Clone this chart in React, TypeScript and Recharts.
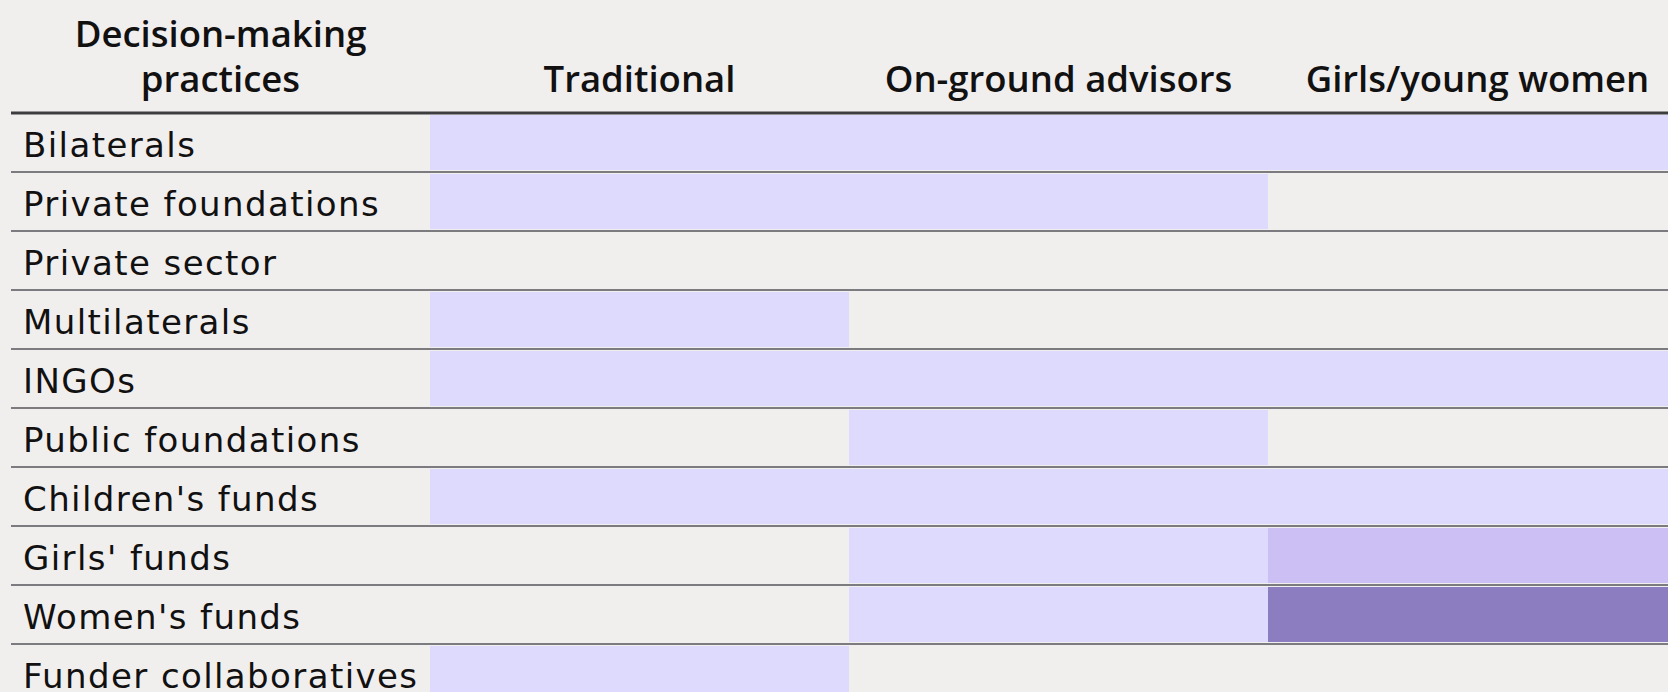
import { BarChart, Bar, XAxis, YAxis, CartesianGrid, Cell, LabelList } from 'recharts';

const ROWS = [
  'Bilaterals',
  'Private foundations',
  'Private sector',
  'Multilaterals',
  'INGOs',
  'Public foundations',
  "Children's funds",
  "Girls' funds",
  "Women's funds",
  'Funder collaboratives',
];

const COLUMNS = ['Decision-making\npractices', 'Traditional', 'On-ground advisors', 'Girls/young women'];
const COLUMN_TICKS = [0.5, 1.5, 2.5, 3.5];

// 0 = no fill, 1 = light, 2 = medium, 3 = dark
const TRADITIONAL = [1, 1, 0, 1, 1, 0, 1, 0, 0, 1];
const ON_GROUND = [1, 1, 0, 0, 1, 1, 1, 1, 1, 0];
const GIRLS = [1, 0, 0, 0, 1, 0, 1, 2, 3, 0];

const LEVEL_COLORS = ['transparent', '#dddafe', '#cbbff3', '#8c7cc0'];
const BG = '#f1eeee';
const HEAD_FONT = '"Open Sans", sans-serif';
const ROW_FONT = '"DejaVu Sans", sans-serif';

const data = ROWS.map((name, i) => ({
  name,
  label: 1,
  trad: 1,
  ground: 1,
  girls: 1,
  lTrad: TRADITIONAL[i],
  lGround: ON_GROUND[i],
  lGirls: GIRLS[i],
}));

function HeaderTick(props: any) {
  const { x, y, payload } = props;
  const idx = COLUMN_TICKS.indexOf(payload.value);
  if (idx < 0) return null;
  const lines = COLUMNS[idx].split('\n');
  return (
    <g>
      {lines.map((l, i) => (
        <text
          key={i}
          x={x}
          y={y - 21 - (lines.length - 1 - i) * 45}
          textAnchor="middle"
          fontFamily={HEAD_FONT}
          fontWeight={600}
          fontSize={36.5}
          fill="#111"
        >
          {l}
        </text>
      ))}
    </g>
  );
}

function RowLabel(props: any) {
  const { x, y, height, value } = props;
  return (
    <text x={x + 12} y={y + height / 2 + 14} fontFamily={ROW_FONT} fontSize={34} letterSpacing={1.4} fill="#111">
      {value}
    </text>
  );
}

// row boundaries: band edges of the category axis
function rowLines({ offset }: any): number[] {
  const h = offset.height / ROWS.length;
  return ROWS.map((_, i) => offset.top + (i + 1) * h);
}

export default function App() {
  return (
    <div style={{ position: 'fixed', inset: 0, overflow: 'hidden', background: BG }}>
      <BarChart
        width={1690}
        height={708}
        data={data}
        layout="vertical"
        margin={{ top: 0, right: 3, bottom: 5, left: 11 }}
        barCategoryGap={2}
      >
        <CartesianGrid
          vertical={false}
          stroke="#7b7b80"
          strokeWidth={2}
          horizontalCoordinatesGenerator={rowLines}
        />
        <XAxis
          type="number"
          orientation="top"
          domain={[0, 4]}
          ticks={COLUMN_TICKS}
          height={113}
          tickSize={0}
          tickMargin={0}
          tickLine={false}
          axisLine={{ stroke: '#3d3d40', strokeWidth: 3 }}
          tick={<HeaderTick />}
          interval={0}
        />
        <YAxis type="category" dataKey="name" hide />
        <Bar dataKey="label" stackId="a" fill="transparent" isAnimationActive={false}>
          <LabelList dataKey="name" content={<RowLabel />} />
        </Bar>
        <Bar dataKey="trad" stackId="a" isAnimationActive={false}>
          {data.map((d, i) => <Cell key={i} fill={LEVEL_COLORS[d.lTrad]} />)}
        </Bar>
        <Bar dataKey="ground" stackId="a" isAnimationActive={false}>
          {data.map((d, i) => <Cell key={i} fill={LEVEL_COLORS[d.lGround]} />)}
        </Bar>
        <Bar dataKey="girls" stackId="a" isAnimationActive={false}>
          {data.map((d, i) => <Cell key={i} fill={LEVEL_COLORS[d.lGirls]} />)}
        </Bar>
      </BarChart>
    </div>
  );
}
